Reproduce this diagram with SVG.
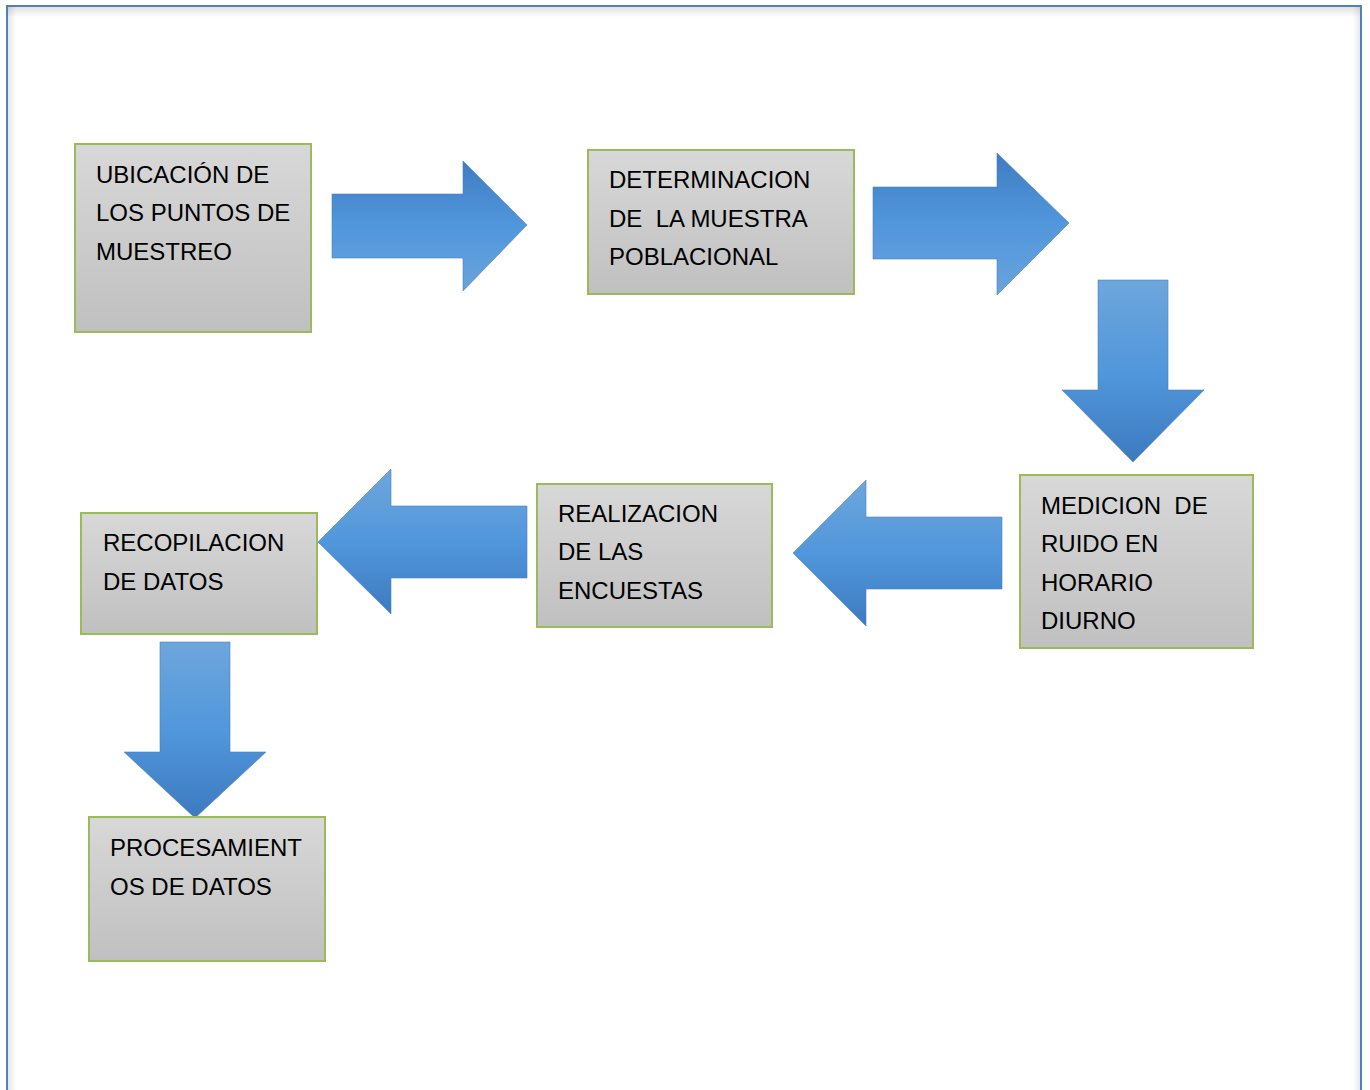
<svg xmlns="http://www.w3.org/2000/svg" width="1370" height="1090" viewBox="0 0 1370 1090">
<style>
.box{stroke:#9BBB59;stroke-width:2;fill:url(#gGray)}
.lbl{font-family:"Liberation Sans",Arial,sans-serif;font-size:24px;fill:#000}
.arr{stroke:#4F81BD;stroke-width:1;stroke-opacity:0.6}
</style>
<defs>
<linearGradient id="gGray" x1="0" y1="0" x2="0" y2="1">
<stop offset="0" stop-color="#d8d8d8"/>
<stop offset="1" stop-color="#c0c0c0"/>
</linearGradient>
<linearGradient id="gDarkTop" x1="0" y1="0" x2="0" y2="1">
<stop offset="0" stop-color="#3f7cc2"/>
<stop offset="0.5" stop-color="#5197db"/>
<stop offset="1" stop-color="#6aa3dc"/>
</linearGradient>
<linearGradient id="gLightTop" x1="0" y1="0" x2="0" y2="1">
<stop offset="0" stop-color="#6ea6dc"/>
<stop offset="0.5" stop-color="#5197db"/>
<stop offset="1" stop-color="#3d7ac0"/>
</linearGradient>
<linearGradient id="gShadowT" x1="0" y1="0" x2="0" y2="1">
<stop offset="0" stop-color="#000" stop-opacity="0.12"/>
<stop offset="1" stop-color="#000" stop-opacity="0"/>
</linearGradient>
<linearGradient id="gShadowL" x1="0" y1="0" x2="1" y2="0">
<stop offset="0" stop-color="#000" stop-opacity="0.10"/>
<stop offset="1" stop-color="#000" stop-opacity="0"/>
</linearGradient>
<linearGradient id="gShadowR" x1="1" y1="0" x2="0" y2="0">
<stop offset="0" stop-color="#000" stop-opacity="0.10"/>
<stop offset="1" stop-color="#000" stop-opacity="0"/>
</linearGradient>
</defs>
<rect width="1370" height="1090" fill="#fff"/>
<g id="frame">
<rect x="8" y="7" width="1353" height="10" fill="url(#gShadowT)"/>
<rect x="8" y="7" width="8" height="1083" fill="url(#gShadowL)"/>
<rect x="1353" y="7" width="8" height="1083" fill="url(#gShadowR)"/>
<path d="M7,1090 V6 H1361 V1090" fill="none" stroke="#4F81BD" stroke-width="2"/>
</g>
<g id="connectors">
<path class="arr" fill="url(#gDarkTop)" d="M332,194 H463 V161 L527,225 L463,291 V258 H332 Z"/>
<path class="arr" fill="url(#gDarkTop)" d="M873,187 H997 V153 L1069,223 L997,295 V259 H873 Z"/>
<path class="arr" fill="url(#gLightTop)" d="M1098,280 H1168 V390 H1204 L1133,462 L1062,390 H1098 Z"/>
<path class="arr" fill="url(#gLightTop)" d="M1002,517 H866 V480 L793,553 L866,626 V589 H1002 Z"/>
<path class="arr" fill="url(#gLightTop)" d="M527,506 H391 V469 L318,542 L391,614 V578 H527 Z"/>
<path class="arr" fill="url(#gLightTop)" d="M160,642 H230 V752 H266 L195,818 L124,752 H160 Z"/>
</g>
<g id="n1">
<rect class="box" x="75" y="144" width="236" height="188"/>
<text class="lbl" x="96" y="183">UBICACIÓN DE</text>
<text class="lbl" x="96" y="221">LOS PUNTOS DE</text>
<text class="lbl" x="96" y="260">MUESTREO</text>
</g>
<g id="n2">
<rect class="box" x="588" y="150" width="266" height="144"/>
<text class="lbl" x="609" y="188">DETERMINACION</text>
<text class="lbl" x="609" y="227" xml:space="preserve">DE  LA MUESTRA</text>
<text class="lbl" x="609" y="265">POBLACIONAL</text>
</g>
<g id="n3">
<rect class="box" x="1020" y="475" width="233" height="173"/>
<text class="lbl" x="1041" y="514" xml:space="preserve">MEDICION  DE</text>
<text class="lbl" x="1041" y="552">RUIDO EN</text>
<text class="lbl" x="1041" y="591">HORARIO</text>
<text class="lbl" x="1041" y="629">DIURNO</text>
</g>
<g id="n4">
<rect class="box" x="537" y="484" width="235" height="143"/>
<text class="lbl" x="558" y="522">REALIZACION</text>
<text class="lbl" x="558" y="560">DE LAS</text>
<text class="lbl" x="558" y="599">ENCUESTAS</text>
</g>
<g id="n5">
<rect class="box" x="81" y="513" width="236" height="121"/>
<text class="lbl" x="103" y="551">RECOPILACION</text>
<text class="lbl" x="103" y="590">DE DATOS</text>
</g>
<g id="n6">
<rect class="box" x="89" y="817" width="236" height="144"/>
<text class="lbl" x="110" y="856">PROCESAMIENT</text>
<text class="lbl" x="110" y="895">OS DE DATOS</text>
</g>
</svg>
